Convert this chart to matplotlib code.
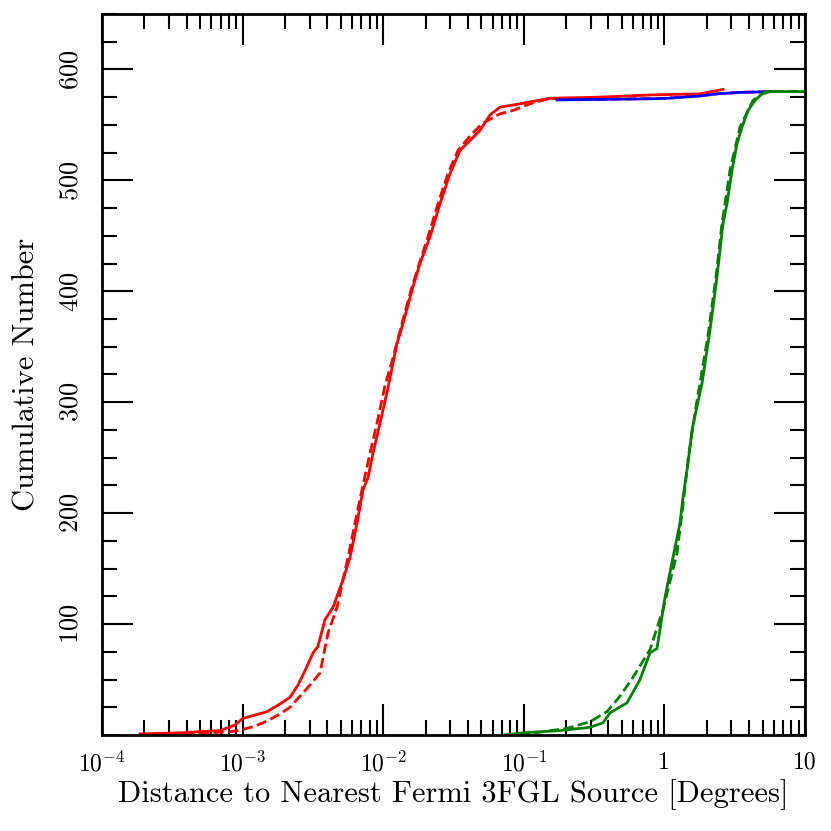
import numpy as np
import matplotlib
matplotlib.use("Agg")
import matplotlib.pyplot as plt

plt.rcParams["font.family"] = "serif"
plt.rcParams["font.serif"] = ["cmr10"]
plt.rcParams["mathtext.fontset"] = "cm"
plt.rcParams["axes.unicode_minus"] = False
plt.rcParams["axes.formatter.use_mathtext"] = True

# red: solid and dashed distributions
red_x = [1.862e-4, 3.589e-4, 6.905e-4, 8.83e-4, 1.006e-3, 1.226e-3, 1.491e-3, 1.845e-3,
         2.173e-3, 2.477e-3, 2.779e-3, 3.169e-3, 3.436e-3, 3.854e-3, 4.395e-3, 5.176e-3,
         5.807e-3, 6.513e-3, 7.183e-3, 7.794e-3, 8.462e-3, 9.488e-3, 1.0817e-2, 1.2535e-2,
         1.3826e-2, 1.628e-2, 1.827e-2, 2.152e-2, 2.535e-2, 2.986e-2, 3.517e-2, 4.143e-2,
         4.88e-2, 5.748e-2, 6.771e-2, 9.397e-2, 0.1536, 0.3483, 0.790, 1.791, 2.611]
red_y = [1, 2, 4, 9, 15, 18, 21, 28, 34, 45, 58, 74, 80, 104, 115, 140, 160, 191, 221, 232,
         254, 281, 313, 353, 371, 404, 425, 449, 479, 506, 527, 536, 545, 559, 566, 569, 574,
         575, 577, 578, 582]

red_dash_x = [1.862e-4, 4.977e-4, 8.135e-4, 1.006e-3, 1.226e-3, 1.516e-3, 1.845e-3, 2.173e-3,
              2.560e-3, 3.016e-3, 3.553e-3, 4.05e-3, 4.692e-3, 5.176e-3, 5.618e-3, 6.30e-3,
              7.066e-3, 8.055e-3, 9.035e-3, 1.0299e-2, 1.1742e-2, 1.3601e-2, 1.602e-2,
              1.827e-2, 2.083e-2, 2.453e-2, 2.89e-2, 3.404e-2, 4.143e-2, 5.042e-2, 6.771e-2,
              8.379e-2, 0.1107, 0.1536, 0.3483, 1.043, 2.366, 3.449, 5.922, 10.0]
red_dash_y = [0.5, 1.5, 3, 5, 8, 13, 19, 25, 35, 45, 56, 92, 115, 140, 160, 191, 221, 254,
              281, 315, 340, 371, 404, 427, 449, 479, 506, 527, 540, 551, 560, 563, 569, 574,
              573, 574, 578, 579.3, 580, 580]

# blue
blue_x = [0.1722, 0.3483, 0.790, 1.043, 1.791, 2.366, 3.449, 5.922]
blue_y = [572.5, 573, 573.5, 574, 576, 578, 579.3, 580]

# green: solid and dashed distributions
green_x = [7.349e-2, 9.87e-2, 0.1809, 0.2956, 0.3660, 0.4103, 0.5420, 0.6708, 0.790, 0.8857,
           1.010, 1.151, 1.291, 1.356, 1.472, 1.572, 1.705, 1.851, 2.110, 2.366, 2.611, 2.787,
           3.026, 3.284, 3.564, 3.932, 4.410, 4.945, 5.638, 10.0]
green_y = [0, 2, 4, 7, 11, 20, 29, 50, 74, 78, 124, 160, 191, 214, 245, 275, 296, 317, 365,
           413, 461, 479, 509, 533, 548, 563, 572, 578, 580, 580]

green_dash_x = [7.349e-2, 0.1054, 0.2029, 0.2956, 0.3905, 0.4832, 0.5979, 0.790, 0.9772,
                1.229, 1.379, 1.472, 1.678, 2.042, 2.328, 2.569, 2.928, 3.449, 4.268, 5.195, 10.0]
green_dash_y = [0, 1, 6, 12, 21, 35, 52, 77, 113, 164, 215, 248, 296, 360, 413, 461, 509, 548,
                572, 580, 580]

xticks = [1e-4, 1e-3, 1e-2, 1e-1, 1, 10]
xticklabels = [r"$10^{-4}$", r"$10^{-3}$", r"$10^{-2}$", r"$10^{-1}$", "1", "10"]
yticks = [100, 200, 300, 400, 500, 600]

fig = plt.figure(figsize=(8.31, 8.31), dpi=100)
ax = fig.add_axes([0.1227, 0.1155, 0.846, 0.8677])

lw = 2.0
ax.plot(red_x, red_y, color="red", lw=lw)
ax.plot(red_dash_x, red_dash_y, color="red", lw=lw, ls="--")
ax.plot(blue_x, blue_y, color="blue", lw=lw)
ax.plot(green_x, green_y, color="green", lw=lw)
ax.plot(green_dash_x, green_dash_y, color="green", lw=lw, ls="--")

ax.set_xscale("log")
ax.set_xlim(1e-4, 10)
ax.set_ylim(0, 650)
ax.set_xticks(xticks)
ax.set_xticklabels(xticklabels)
ax.set_yticks(yticks)
ax.yaxis.set_minor_locator(matplotlib.ticker.MultipleLocator(25))
ax.xaxis.set_minor_locator(matplotlib.ticker.LogLocator(base=10, subs=np.arange(2, 10)))
ax.xaxis.set_minor_formatter(matplotlib.ticker.NullFormatter())

ax.tick_params(which="both", direction="in", top=True, right=True, width=1.5)
ax.tick_params(which="major", length=22)
ax.tick_params(which="minor", length=11)
ax.tick_params(axis="x", which="major", labelsize=17, pad=12)
ax.tick_params(axis="y", which="major", labelsize=19, pad=14, labelrotation=90)
for lab in ax.get_yticklabels():
    lab.set_va("center")
for s in ax.spines.values():
    s.set_linewidth(2)

ax.set_xlabel("Distance to Nearest Fermi 3FGL Source [Degrees]", fontsize=22, labelpad=2)
ax.set_ylabel("Cumulative Number", fontsize=22, labelpad=13)

plt.savefig("out.png", dpi=100)
